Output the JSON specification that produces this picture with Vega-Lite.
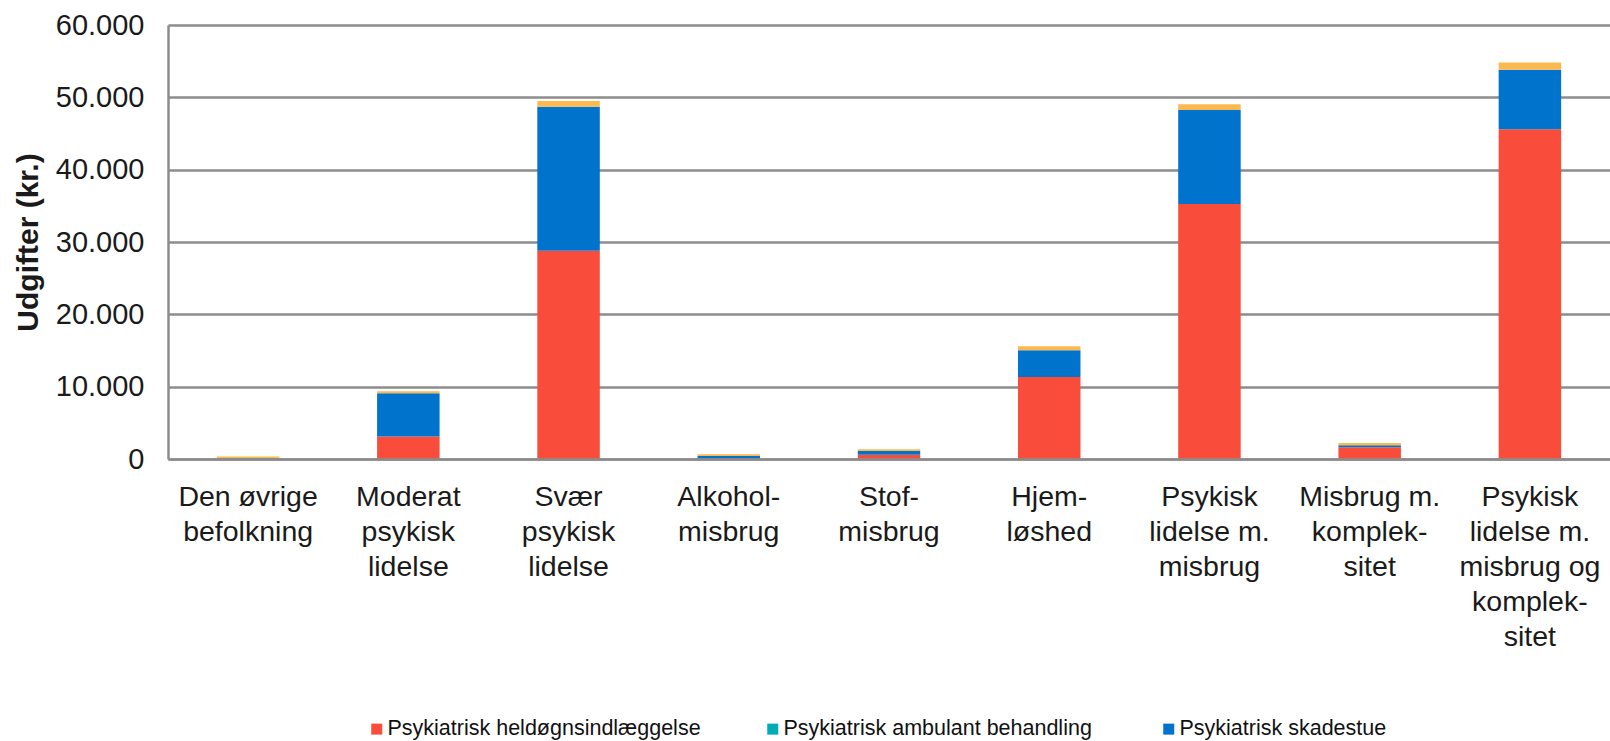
{
  "$schema": "https://vega.github.io/schema/vega-lite/v6.json",
  "width": 1442,
  "height": 434,
  "autosize": {"type": "none"},
  "padding": {"left": 168, "top": 25, "right": 0, "bottom": 282},
  "background": "white",
  "config": {
    "view": {"stroke": null},
    "font": "Liberation Sans"
  },
  "data": {
    "values": [
      {"gruppe": "Den øvrige|befolkning", "type": "Psykiatrisk heldøgnsindlæggelse", "ordre": 1, "udgift": 50},
      {"gruppe": "Den øvrige|befolkning", "type": "Psykiatrisk ambulant behandling", "ordre": 2, "udgift": 0},
      {"gruppe": "Den øvrige|befolkning", "type": "Psykiatrisk skadestue", "ordre": 3, "udgift": 50},
      {"gruppe": "Den øvrige|befolkning", "type": "Øvrige psykiatriske ydelser", "ordre": 4, "udgift": 250},
      {"gruppe": "Moderat|psykisk|lidelse", "type": "Psykiatrisk heldøgnsindlæggelse", "ordre": 1, "udgift": 3100},
      {"gruppe": "Moderat|psykisk|lidelse", "type": "Psykiatrisk ambulant behandling", "ordre": 2, "udgift": 0},
      {"gruppe": "Moderat|psykisk|lidelse", "type": "Psykiatrisk skadestue", "ordre": 3, "udgift": 6000},
      {"gruppe": "Moderat|psykisk|lidelse", "type": "Øvrige psykiatriske ydelser", "ordre": 4, "udgift": 250},
      {"gruppe": "Svær|psykisk|lidelse", "type": "Psykiatrisk heldøgnsindlæggelse", "ordre": 1, "udgift": 28800},
      {"gruppe": "Svær|psykisk|lidelse", "type": "Psykiatrisk ambulant behandling", "ordre": 2, "udgift": 0},
      {"gruppe": "Svær|psykisk|lidelse", "type": "Psykiatrisk skadestue", "ordre": 3, "udgift": 19900},
      {"gruppe": "Svær|psykisk|lidelse", "type": "Øvrige psykiatriske ydelser", "ordre": 4, "udgift": 800},
      {"gruppe": "Alkohol-|misbrug", "type": "Psykiatrisk heldøgnsindlæggelse", "ordre": 1, "udgift": 100},
      {"gruppe": "Alkohol-|misbrug", "type": "Psykiatrisk ambulant behandling", "ordre": 2, "udgift": 0},
      {"gruppe": "Alkohol-|misbrug", "type": "Psykiatrisk skadestue", "ordre": 3, "udgift": 300},
      {"gruppe": "Alkohol-|misbrug", "type": "Øvrige psykiatriske ydelser", "ordre": 4, "udgift": 250},
      {"gruppe": "Stof-|misbrug", "type": "Psykiatrisk heldøgnsindlæggelse", "ordre": 1, "udgift": 600},
      {"gruppe": "Stof-|misbrug", "type": "Psykiatrisk ambulant behandling", "ordre": 2, "udgift": 0},
      {"gruppe": "Stof-|misbrug", "type": "Psykiatrisk skadestue", "ordre": 3, "udgift": 500},
      {"gruppe": "Stof-|misbrug", "type": "Øvrige psykiatriske ydelser", "ordre": 4, "udgift": 250},
      {"gruppe": "Hjem-|løshed", "type": "Psykiatrisk heldøgnsindlæggelse", "ordre": 1, "udgift": 11350},
      {"gruppe": "Hjem-|løshed", "type": "Psykiatrisk ambulant behandling", "ordre": 2, "udgift": 0},
      {"gruppe": "Hjem-|løshed", "type": "Psykiatrisk skadestue", "ordre": 3, "udgift": 3700},
      {"gruppe": "Hjem-|løshed", "type": "Øvrige psykiatriske ydelser", "ordre": 4, "udgift": 550},
      {"gruppe": "Psykisk|lidelse m.|misbrug", "type": "Psykiatrisk heldøgnsindlæggelse", "ordre": 1, "udgift": 35250},
      {"gruppe": "Psykisk|lidelse m.|misbrug", "type": "Psykiatrisk ambulant behandling", "ordre": 2, "udgift": 0},
      {"gruppe": "Psykisk|lidelse m.|misbrug", "type": "Psykiatrisk skadestue", "ordre": 3, "udgift": 13000},
      {"gruppe": "Psykisk|lidelse m.|misbrug", "type": "Øvrige psykiatriske ydelser", "ordre": 4, "udgift": 800},
      {"gruppe": "Misbrug m.|komplek-|sitet", "type": "Psykiatrisk heldøgnsindlæggelse", "ordre": 1, "udgift": 1620},
      {"gruppe": "Misbrug m.|komplek-|sitet", "type": "Psykiatrisk ambulant behandling", "ordre": 2, "udgift": 0},
      {"gruppe": "Misbrug m.|komplek-|sitet", "type": "Psykiatrisk skadestue", "ordre": 3, "udgift": 280},
      {"gruppe": "Misbrug m.|komplek-|sitet", "type": "Øvrige psykiatriske ydelser", "ordre": 4, "udgift": 320},
      {"gruppe": "Psykisk|lidelse m.|misbrug og|komplek-|sitet", "type": "Psykiatrisk heldøgnsindlæggelse", "ordre": 1, "udgift": 45600},
      {"gruppe": "Psykisk|lidelse m.|misbrug og|komplek-|sitet", "type": "Psykiatrisk ambulant behandling", "ordre": 2, "udgift": 0},
      {"gruppe": "Psykisk|lidelse m.|misbrug og|komplek-|sitet", "type": "Psykiatrisk skadestue", "ordre": 3, "udgift": 8200},
      {"gruppe": "Psykisk|lidelse m.|misbrug og|komplek-|sitet", "type": "Øvrige psykiatriske ydelser", "ordre": 4, "udgift": 1000}
    ]
  },
  "mark": {"type": "bar"},
  "encoding": {
    "x": {
      "field": "gruppe",
      "type": "nominal",
      "sort": null,
      "scale": {"paddingInner": 0.61, "paddingOuter": 0.305},
      "axis": {
        "title": null,
        "labelAngle": 0,
        "labelExpr": "split(datum.label, '|')",
        "labelFont": "Liberation Sans",
        "labelFontSize": 28.5,
        "labelLineHeight": 35,
        "labelColor": "#1a1a1a",
        "labelPadding": 23,
        "labelLimit": 300,
        "ticks": false,
        "domain": true,
        "domainColor": "#8c8c8c",
        "domainWidth": 2.5,
        "grid": false,
        "zindex": 1
      }
    },
    "y": {
      "field": "udgift",
      "type": "quantitative",
      "stack": "zero",
      "scale": {"domain": [0, 60000], "nice": false},
      "axis": {
        "title": "Udgifter (kr.)",
        "titleFont": "Liberation Sans",
        "titleFontSize": 30,
        "titleFontWeight": "bold",
        "titleColor": "#1a1a1a",
        "titlePadding": 12,
        "values": [0, 10000, 20000, 30000, 40000, 50000, 60000],
        "labelExpr": "replace(format(datum.value, ','), ',', '.')",
        "labelFont": "Liberation Sans",
        "labelFontSize": 29,
        "labelColor": "#1a1a1a",
        "labelPadding": 24,
        "ticks": false,
        "domain": true,
        "domainColor": "#8c8c8c",
        "domainWidth": 2.5,
        "grid": true,
        "gridColor": "#8c8c8c",
        "gridWidth": 2.5
      }
    },
    "color": {
      "field": "type",
      "type": "nominal",
      "scale": {
        "domain": ["Psykiatrisk heldøgnsindlæggelse", "Psykiatrisk ambulant behandling", "Psykiatrisk skadestue", "Øvrige psykiatriske ydelser"],
        "range": ["#F94C3B", "#00ABB5", "#0073CC", "#FDB94F"]
      },
      "legend": {
        "title": null,
        "values": ["Psykiatrisk heldøgnsindlæggelse", "Psykiatrisk ambulant behandling", "Psykiatrisk skadestue"],
        "orient": "none",
        "legendX": 198,
        "legendY": 693,
        "direction": "horizontal",
        "columns": 3,
        "gridAlign": "all",
        "columnPadding": 61,
        "padding": 0,
        "symbolType": "square",
        "symbolSize": 121,
        "symbolStrokeWidth": 0,
        "labelFont": "Liberation Sans",
        "labelFontSize": 21.5,
        "labelColor": "#111111",
        "labelOffset": 0,
        "labelLimit": 400
      }
    },
    "order": {"field": "ordre", "type": "quantitative"}
  }
}
